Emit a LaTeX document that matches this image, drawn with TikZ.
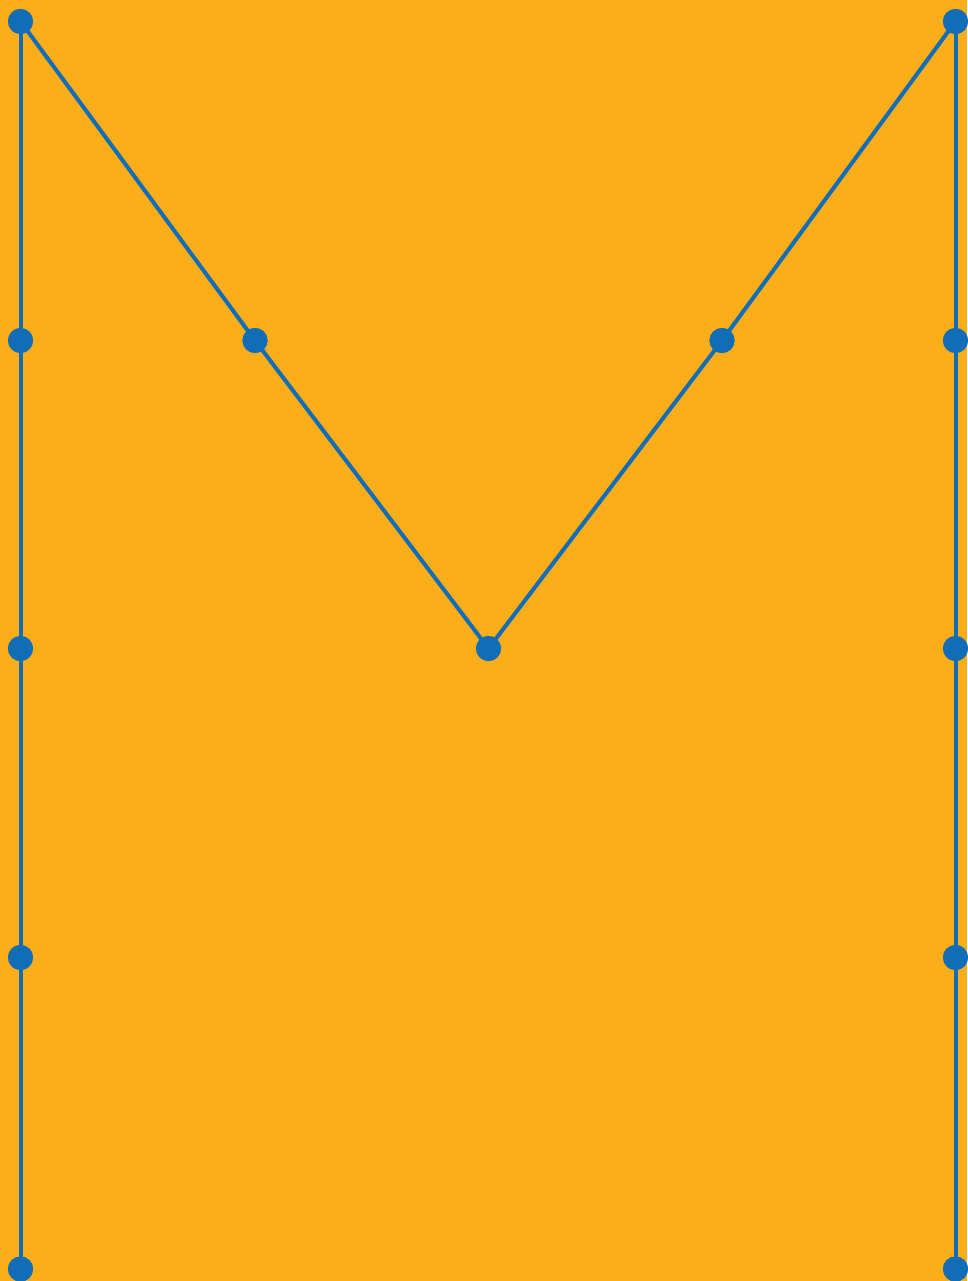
\documentclass[tikz,border=0pt]{standalone}
\definecolor{bgorange}{RGB}{251,174,26}
\definecolor{dotblue}{RGB}{16,109,182}
\begin{document}
\begin{tikzpicture}[x=0.75pt,y=-0.75pt,
  dot/.style={circle,fill=dotblue,draw=none,inner sep=0pt,minimum size=18.75pt},
  link/.style={draw=dotblue,line width=3pt}]
\fill[bgorange] (0,0) rectangle (967,1281);
\useasboundingbox (0,0) rectangle (967,1281);
% left column
\node[dot] (l1) at (20.5,21.5) {};
\node[dot] (l2) at (20.5,340.5) {};
\node[dot] (l3) at (20.5,648.5) {};
\node[dot] (l4) at (20.5,957.5) {};
\node[dot] (l5) at (20.5,1269) {};
% right column
\node[dot] (r1) at (955.5,21.5) {};
\node[dot] (r2) at (955.5,340.5) {};
\node[dot] (r3) at (955.5,648.5) {};
\node[dot] (r4) at (955.5,957.5) {};
\node[dot] (r5) at (955.5,1269) {};
% V
\node[dot] (a) at (255,340.5) {};
\node[dot] (m) at (488.5,648.5) {};
\node[dot] (b) at (722,340.5) {};
\begin{scope}[on background layer/.style={}]
\end{scope}
\path[link] (l1.center) -- (l5.center);
\path[link] (r1.center) -- (r5.center);
\path[link] (l1.center) -- (a.center) -- (m.center) -- (b.center) -- (r1.center);
\foreach \n in {l1,l2,l3,l4,l5,r1,r2,r3,r4,r5,a,m,b}
  \fill[dotblue] (\n) circle (9.4pt);
\end{tikzpicture}
\end{document}
